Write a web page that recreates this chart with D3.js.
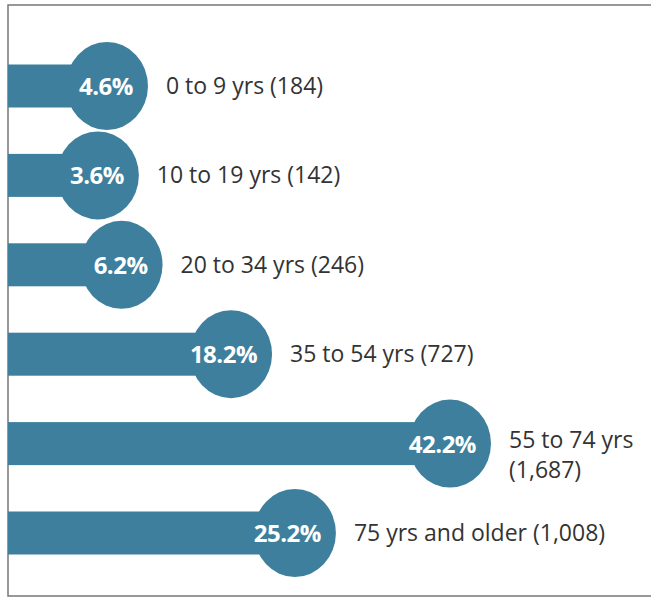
<!DOCTYPE html>
<html lang="en">
<head>
    <meta charset="UTF-8">
    <title>Age breakdown</title>
    <style>
        body {
            margin: 0;
            background: #fff;
            font-family: "Open Sans", Arial, sans-serif;
        }
    </style>
</head>
<body>
    <div id="chart"></div>
    <script src="https://d3js.org/d3.v7.min.js"></script>
    <script>
        const ageGroups = ["0 to 9 yrs", "10 to 19 yrs", "20 to 34 yrs", "35 to 54 yrs", "55 to 74 yrs", "75 yrs and older"];
        const percents = [4.6, 3.6, 6.2, 18.2, 42.2, 25.2];
        const counts = ["184", "142", "246", "727", "1,687", "1,008"];

        const width = 651;
        const height = 598;
        const color = "#3d7f9d";

        const svg = d3.select("#chart").append("svg")
            .attr("width", width)
            .attr("height", height);

        // frame
        svg.append("rect")
            .attr("x", 8)
            .attr("y", 5)
            .attr("width", 660)
            .attr("height", 591)
            .attr("fill", "none")
            .attr("stroke", "#777")
            .attr("stroke-width", 1.5);

        const data = ageGroups.map((g, i) => ({ group: g, pct: percents[i], count: counts[i] }));

        const x = d3.scaleLinear().domain([0, 42.2]).range([65, 450]);
        const y = d3.scalePoint().domain(ageGroups).range([86, 533]);

        const barH = 43;
        const rx = 41, ry = 44;

        const rows = svg.selectAll("g.row")
            .data(data)
            .enter().append("g")
            .attr("class", "row");

        rows.append("rect")
            .attr("x", 8)
            .attr("y", d => y(d.group) - barH / 2)
            .attr("width", d => x(d.pct) - 8)
            .attr("height", barH)
            .attr("fill", color);

        rows.append("ellipse")
            .attr("cx", d => x(d.pct))
            .attr("cy", d => y(d.group))
            .attr("rx", rx)
            .attr("ry", ry)
            .attr("fill", color);

        rows.append("text")
            .attr("x", d => x(d.pct) + 26)
            .attr("y", d => y(d.group) + 9)
            .attr("text-anchor", "end")
            .attr("fill", "#fff")
            .attr("font-size", 24)
            .attr("font-weight", "bold")
            .attr("letter-spacing", -0.5)
            .text(d => d.pct.toFixed(1) + "%");

        // category labels, the long one wraps to two lines
        const labelX = d => x(d.pct) + rx + 18;
        rows.append("text")
            .attr("x", labelX)
            .attr("y", d => y(d.group) + (d.group === "55 to 74 yrs" ? 4 : 8))
            .attr("fill", "#333")
            .attr("font-size", 23)
            .each(function(d) {
                const t = d3.select(this);
                if (d.group === "55 to 74 yrs") {
                    t.append("tspan").text(d.group);
                    t.append("tspan")
                        .attr("x", labelX(d))
                        .attr("dy", 30)
                        .text("(" + d.count + ")");
                } else {
                    t.text(d.group + " (" + d.count + ")");
                }
            });
    </script>
</body>
</html>
